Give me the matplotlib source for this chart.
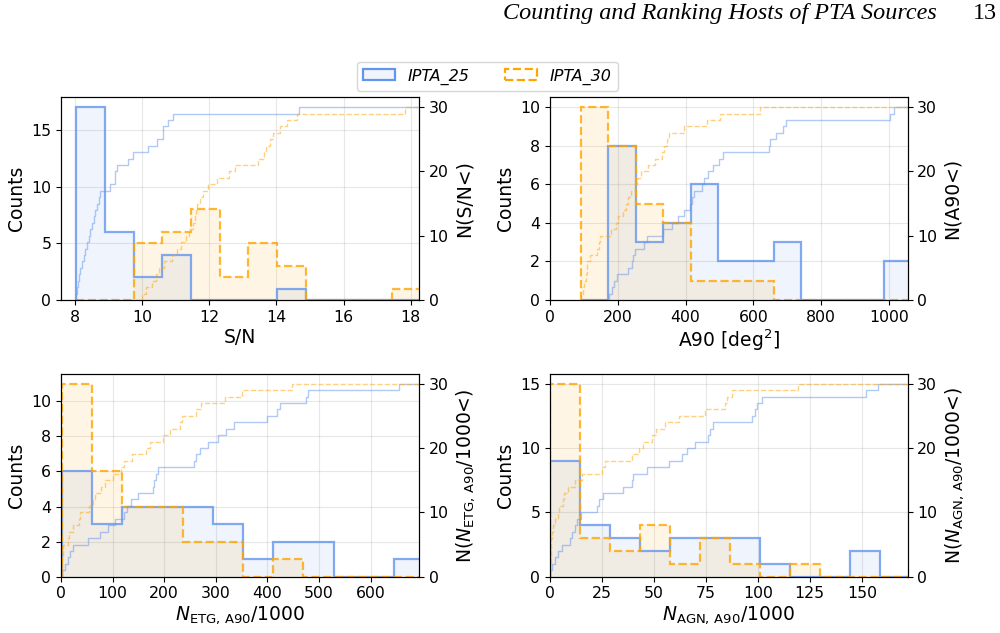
import numpy as np
import matplotlib.pyplot as plt
from matplotlib.patches import Patch

# values, 30 hosts for each catalogue
snr_25 = [8.03, 8.05, 8.08, 8.11, 8.14, 8.2, 8.26, 8.3, 8.35, 8.4, 8.45, 8.5,
          8.55, 8.6, 8.65, 8.7, 8.75, 9.04, 9.18, 9.19, 9.26, 9.59, 9.72,
          10.16, 10.45, 10.61, 10.62, 10.78, 10.93, 14.67]
snr_30 = [10.0, 10.12, 10.28, 10.4, 10.5, 10.65, 10.9, 11.05, 11.15, 11.3, 11.4,
          11.5, 11.58, 11.6, 11.62, 11.72, 11.82, 11.97, 12.22, 12.6, 12.77,
          13.46, 13.64, 13.68, 13.8, 13.91, 14.11, 14.31, 14.6, 17.83]

a90_25 = [174, 182, 189, 197, 231, 241, 246, 251, 276, 285, 333, 359, 379, 394,
          413, 418, 425, 448, 453, 467, 482, 500, 512, 645, 650, 667, 687, 697,
          1004, 1016]
a90_30 = [90.5, 96, 100, 106, 108, 109, 118, 138, 145, 147, 180, 195, 200, 215,
          225, 230, 240, 250, 258, 270, 290, 310, 330, 336, 345, 350, 395, 463,
          502, 620]

etg_25 = [2.5, 8, 14, 17, 24, 53, 75.6, 92, 105, 122, 128, 135, 150, 178, 181,
          184, 188, 258, 262, 270, 285, 305, 320, 335, 400, 418, 425, 474, 478,
          655]
etg_30 = [2, 2.3, 2.6, 3, 3.5, 14, 16, 24, 35, 37, 55, 62, 66, 78, 86, 101, 116,
          122, 137, 165, 172, 198, 211, 231, 234, 262, 272, 318, 350, 447]

agn_25 = [0.2, 1.2, 2.4, 4, 6, 9.6, 10.4, 12, 13, 14.7, 22.8, 23.7, 25.3, 35.3,
          39.3, 40, 46.5, 57.2, 63.3, 65.7, 69.7, 76.1, 76.9, 78.5, 97, 98.6,
          99.8, 101.8, 152.2, 157.9]
agn_30 = [0.1, 0.2, 0.3, 0.4, 0.5, 0.6, 0.8, 1.6, 2.4, 3.8, 4.2, 6.2, 6.6, 8.8,
          12, 15.5, 24.8, 26.4, 39.3, 42.8, 44.9, 48.9, 50.8, 55.3, 62, 74.5,
          84, 85, 87.5, 119.4]

labels = ['IPTA_25', 'IPTA_30']
BLUE = 'cornflowerblue'
ORANGE = 'orange'

fig = plt.figure(figsize=(10, 6.33), dpi=100)


def panel(rect, d25, d30, bins, xlim, xlabel, rlabel):
    ax = fig.add_axes(rect)
    ax.set_axisbelow(True)
    ax.grid(True, alpha=0.3)
    for d, c, ls in ((d25, BLUE, '-'), (d30, ORANGE, '--')):
        ax.hist(d, bins=bins, histtype='stepfilled', color=c, alpha=0.1)
        ax.hist(d, bins=bins, histtype='step', color=c, alpha=0.8, lw=1.6, ls=ls)
    ax.set_xlim(*xlim)
    ax.set_xlabel(xlabel, fontsize=13.5, labelpad=2)
    ax.set_ylabel('Counts', fontsize=13.5)
    ax.tick_params(labelsize=11.3)

    # cumulative number on the right axis
    ax2 = ax.twinx()
    for d, c, ls in ((d25, BLUE, '-'), (d30, ORANGE, '--')):
        s = np.sort(d)
        x = np.r_[s[0], s, xlim[1]]
        y = np.r_[0, np.arange(1, len(s) + 1), len(s)]
        ax2.step(x, y, where='post', color=c, alpha=0.5, lw=1, ls=ls)
    ax2.set_ylim(0, 31.5)
    ax2.set_xlim(*xlim)
    ax2.set_yticks([0, 10, 20, 30])
    ax2.set_ylabel(rlabel, fontsize=13.5)
    ax2.tick_params(labelsize=11.3)
    return ax


panel([0.061, 0.526, 0.358, 0.320], snr_25, snr_30,
      np.linspace(8.03, 18.3, 13), (7.58, 18.25), 'S/N', 'N(S/N<)')
panel([0.550, 0.526, 0.3575, 0.320], a90_25, a90_30,
      np.linspace(90.5, 1066.1, 13), (0, 1055), r'A90 [deg$^2$]', 'N(A90<)')
panel([0.061, 0.089, 0.358, 0.320], etg_25, etg_30,
      np.linspace(2, 704, 13), (0, 694), r'$N_{\rm ETG,\,A90}$/1000',
      r'N($N_{\rm ETG,\,A90}$/1000<)')
panel([0.550, 0.089, 0.3575, 0.320], agn_25, agn_30,
      np.linspace(0.1, 173.1, 13), (0, 172), r'$N_{\rm AGN,\,A90}$/1000',
      r'N($N_{\rm AGN,\,A90}$/1000<)')

handles = [Patch(facecolor=(0.39, 0.58, 0.93, 0.1), edgecolor=BLUE, lw=1.6),
           Patch(facecolor='white', edgecolor=ORANGE, lw=1.6, ls='--')]
fig.legend(handles, labels, loc='center', bbox_to_anchor=(0.4875, 0.879),
           ncol=2, prop={'style': 'italic', 'size': 11.5}, columnspacing=2.2)

fig.text(0.503, 0.978, 'Counting and Ranking Hosts of PTA Sources',
         family='Liberation Serif', style='italic', fontsize=17.4, va='center')
fig.text(0.973, 0.978, '13', family='Liberation Serif', fontsize=17.4, va='center')

fig.savefig('out.png', dpi=100)
